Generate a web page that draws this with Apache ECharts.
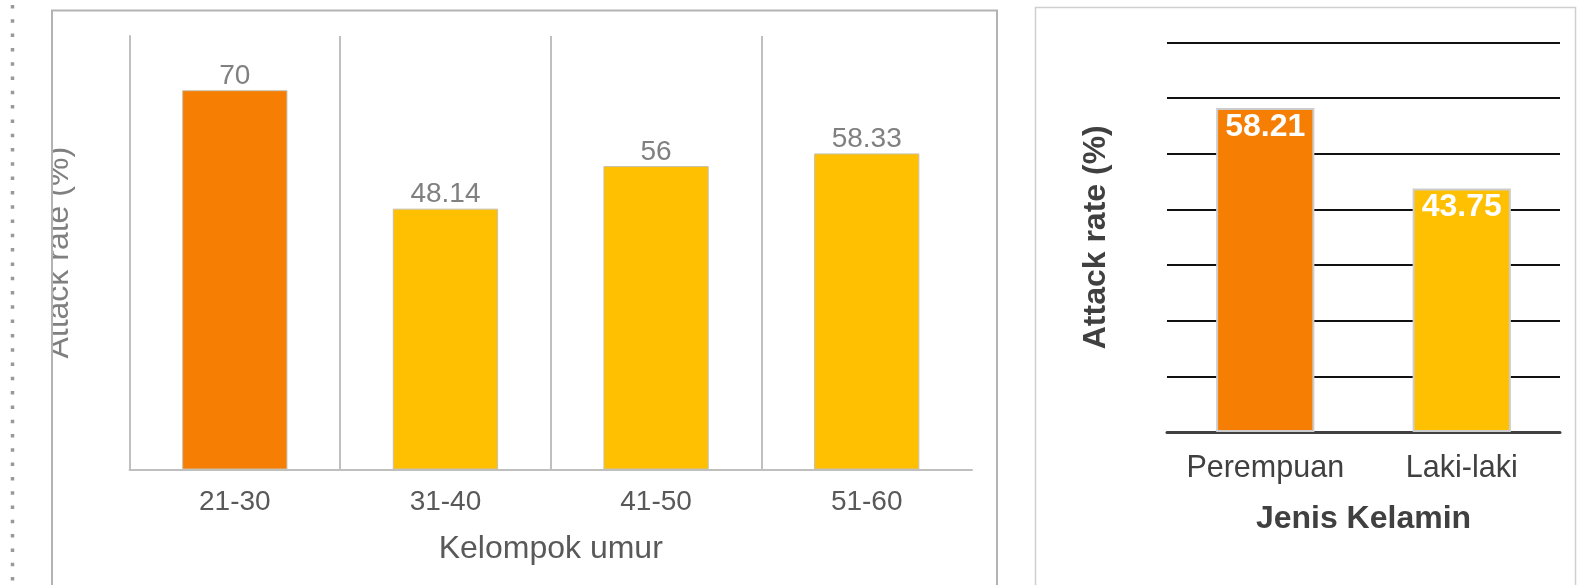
<!DOCTYPE html>
<html>
<head>
<meta charset="utf-8">
<script src="https://cdn.jsdelivr.net/npm/echarts@6/dist/echarts.min.js"></script>
<style>
html,body{margin:0;padding:0;background:#fff;}
#c{width:1586px;height:585px;}
</style>
</head>
<body>
<div id="c"></div>
<script>
// Left chart: attack rate by age group
const ageCategories = ['21-30', '31-40', '41-50', '51-60'];
const ageValues = [70, 48.14, 56, 58.33];
// Right chart: attack rate by sex
const sexCategories = ['Perempuan', 'Laki-laki'];
const sexValues = [58.21, 43.75];

const ORANGE = '#F57E03';
const YELLOW = '#FEC000';
const FONT = 'Liberation Sans, Arial, sans-serif';

const chart = echarts.init(document.getElementById('c'), null, {renderer: 'canvas'});

const option = {
  animation: false,
  backgroundColor: '#fff',
  grid: [
    {left: 129.5, right: 1586 - 972, top: 36, bottom: 585 - 469.5, containLabel: false},
    {left: 1167, right: 1586 - 1560, top: 42.5, bottom: 585 - 432, containLabel: false}
  ],
  xAxis: [
    {
      gridIndex: 0, type: 'category', data: ageCategories,
      axisLine: {show: true, lineStyle: {color: '#bfbfbf', width: 2}},
      axisTick: {show: false},
      axisLabel: {interval: 0, color: '#595959', fontSize: 28, fontFamily: FONT, margin: 19},
      splitLine: {show: true, showMinLine: false, showMaxLine: false, lineStyle: {color: '#bfbfbf', width: 2}},
      name: 'Kelompok umur', nameLocation: 'middle', nameGap: 64,
      nameTextStyle: {color: '#595959', fontSize: 32, fontFamily: FONT}
    },
    {
      gridIndex: 1, type: 'category', data: sexCategories,
      axisLine: {show: true, lineStyle: {color: '#404040', width: 3}},
      axisTick: {show: false},
      axisLabel: {interval: 0, hideOverlap: false, color: '#404040', fontSize: 30.5, fontFamily: FONT, margin: 21},
      splitLine: {show: false},
      name: 'Jenis Kelamin', nameLocation: 'middle', nameGap: 71,
      nameTextStyle: {color: '#404040', fontSize: 32, fontWeight: 'bold', fontFamily: FONT}
    }
  ],
  yAxis: [
    {
      gridIndex: 0, type: 'value', min: 0, max: 80, interval: 10,
      axisLine: {show: true, lineStyle: {color: '#bfbfbf', width: 2}},
      axisTick: {show: false},
      axisLabel: {show: false},
      splitLine: {show: false},
      name: 'Attack rate (%)', nameLocation: 'middle', nameGap: 54,
      nameTextStyle: {color: '#808080', fontSize: 32, fontFamily: FONT}
    },
    {
      gridIndex: 1, type: 'value', min: 0, max: 70, interval: 10,
      axisLine: {show: false},
      axisTick: {show: false},
      axisLabel: {show: false},
      splitLine: {show: true, showMinLine: false, lineStyle: {color: '#111111', width: 2}},
      name: 'Attack rate (%)', nameLocation: 'middle', nameGap: 55,
      nameTextStyle: {color: '#404040', fontSize: 32, fontWeight: 'bold', fontFamily: FONT}
    }
  ],
  series: [
    {
      type: 'bar', xAxisIndex: 0, yAxisIndex: 0, barWidth: '50%',
      data: ageValues.map((v, i) => ({value: v, itemStyle: {color: i === 0 ? ORANGE : YELLOW}})),
      itemStyle: {borderColor: '#c9c0b0', borderWidth: 1},
      label: {show: true, position: 'top', distance: 0, color: '#808080', fontSize: 28, fontFamily: FONT}
    },
    {
      type: 'bar', xAxisIndex: 1, yAxisIndex: 1, barWidth: '50%', z: 3,
      data: sexValues.map((v, i) => ({value: v, itemStyle: {color: i === 0 ? ORANGE : YELLOW}})),
      itemStyle: {borderColor: '#cccccc', borderWidth: 2},
      label: {show: true, position: 'insideTop', distance: 3, color: '#ffffff', fontSize: 32, fontWeight: 'bold', fontFamily: FONT}
    }
  ],
  graphic: [
    {type: 'rect', z: 100, silent: true, shape: {x: 0, y: 0, width: 52, height: 585}, style: {fill: '#ffffff'}},
    {type: 'line', z: 101, silent: true, shape: {x1: 12.5, y1: 5, x2: 12.5, y2: 585},
      style: {stroke: '#999999', lineWidth: 3.5, lineDash: [3.5, 10.8]}},
    {type: 'rect', z: 101, silent: true, shape: {x: 52, y: 10.5, width: 945, height: 620},
      style: {fill: 'none', stroke: '#b3b3b3', lineWidth: 2}},
    {type: 'rect', z: 101, silent: true, shape: {x: 1035.5, y: 7.5, width: 540, height: 620},
      style: {fill: 'none', stroke: '#d0d0d0', lineWidth: 1.5}}
  ]
};

chart.setOption(option);
</script>
</body>
</html>
